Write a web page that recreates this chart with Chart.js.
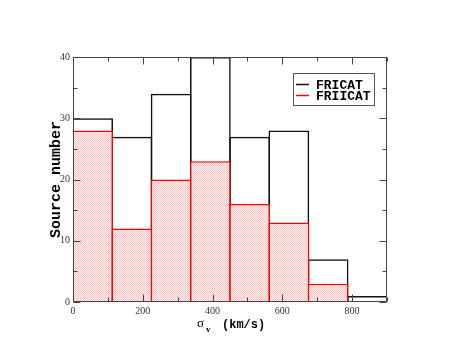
<!DOCTYPE html>
<html>
<head>
<meta charset="utf-8">
<script src="https://cdn.jsdelivr.net/npm/chart.js@4/dist/chart.umd.min.js"></script>
<style>
  html, body { margin: 0; padding: 0; background: #fff; }
  #wrap { width: 458px; height: 360px; position: relative; }
</style>
</head>
<body>
<div id="wrap"><canvas id="histChart"></canvas></div>
<script>
// ============================================
// DATA — sigma_v histogram, bin width 112.5 km/s
// ============================================
const binCenters = [56.25, 168.75, 281.25, 393.75, 506.25, 618.75, 731.25, 843.75];
const fricat     = [30, 27, 34, 40, 27, 28, 7, 1];
const friicat    = [28, 12, 20, 23, 16, 13, 3, 0];
const xTickStep  = 200;
const yTickStep  = 10;

// light red checker fill, like the xmgrace pattern
function redPattern() {
  const c = document.createElement('canvas');
  c.width = 2; c.height = 2;
  const g = c.getContext('2d');
  g.fillStyle = '#fff2f2'; g.fillRect(0, 0, 2, 2);
  g.fillStyle = '#ffc0c0'; g.fillRect(0, 0, 1, 1); g.fillRect(1, 1, 1, 1);
  return g.createPattern(c, 'repeat');
}

// ============================================
// PLUGINS — frame, inward ticks, legend box, x title
// ============================================
const frameTicks = {
  id: 'frameTicks',
  afterDraw(chart) {
    const { ctx, chartArea: a, scales: { x, y } } = chart;
    const L = Math.round(a.left) + 0.5, R = Math.round(a.right) - 0.5;
    const T = Math.round(a.top) + 0.5, B = Math.round(a.bottom) - 0.5;
    ctx.save();
    ctx.strokeStyle = '#444';
    ctx.lineWidth = 1;
    const seg = (x1, y1, x2, y2) => { ctx.beginPath(); ctx.moveTo(x1, y1); ctx.lineTo(x2, y2); ctx.stroke(); };
    for (let v = 0; v <= x.max; v += xTickStep / 2) {
      const px = Math.round(x.getPixelForValue(v)) + 0.5;
      const len = v % xTickStep === 0 ? 7 : 4;
      seg(px, B, px, B - len);
      seg(px, T, px, T + len);
    }
    for (let v = 0; v <= y.max; v += yTickStep / 2) {
      const py = Math.round(y.getPixelForValue(v)) + 0.5;
      const len = v % yTickStep === 0 ? 7 : 4;
      seg(L, py, L + len, py);
      seg(R, py, R - len, py);
    }
    ctx.strokeRect(L, T, R - L, B - T);

    // legend box
    ctx.strokeStyle = '#555';
    ctx.strokeRect(293.5, 73.5, 81, 32);
    const items = [[chart.data.datasets[0], 84.5], [chart.data.datasets[1], 95.5]];
    ctx.font = 'bold 13px "Liberation Mono", monospace';
    ctx.textBaseline = 'middle';
    ctx.fillStyle = '#000';
    for (const [ds, yy] of items) {
      ctx.strokeStyle = ds.borderColor;
      ctx.lineWidth = 1.5;
      seg(296, yy, 309, yy);
      ctx.fillText(ds.label, 316, yy + 1);
    }

    // x axis title: sigma_v (km/s)
    const cx = (a.left + a.right) / 2;
    ctx.textBaseline = 'alphabetic';
    ctx.font = '13px "Liberation Serif", serif';
    ctx.fillText('σ', cx - 33, 326.5);
    ctx.font = 'bold 9px "Liberation Serif", serif';
    ctx.fillText('v', cx - 24, 332);
    ctx.font = 'bold 12px "Liberation Mono", monospace';
    ctx.fillText('(km/s)', cx - 8, 327.5);
    ctx.restore();
  }
};

// ============================================
// CHART
// ============================================
const barW = 1.5;
new Chart(document.getElementById('histChart'), {
  type: 'bar',
  data: {
    datasets: [
      {
        label: 'FRICAT',
        data: binCenters.map((c, i) => ({ x: c, y: fricat[i] })),
        backgroundColor: 'rgba(0,0,0,0)',
        borderColor: '#111',
        borderWidth: barW,
        order: 2
      },
      {
        label: 'FRIICAT',
        data: binCenters.map((c, i) => ({ x: c, y: friicat[i] })),
        backgroundColor: redPattern(),
        borderColor: '#ff0000',
        borderWidth: barW,
        order: 1
      }
    ]
  },
  options: {
    responsive: true,
    maintainAspectRatio: false,
    animation: false,
    devicePixelRatio: 1,
    layout: { padding: { left: 47, right: 71, top: 57, bottom: 0 } },
    datasets: {
      bar: {
        grouped: false,
        categoryPercentage: 1,
        barPercentage: 1.038,
        inflateAmount: 0,
        borderSkipped: 'start'
      }
    },
    plugins: {
      legend: { display: false },
      tooltip: { enabled: false }
    },
    scales: {
      x: {
        type: 'linear',
        offset: false,
        min: 0,
        max: 900,
        grid: { display: false, drawTicks: false },
        border: { display: false },
        afterBuildTicks(s) { s.ticks = s.ticks.filter(t => t.value % xTickStep === 0); },
        ticks: {
          stepSize: xTickStep,
          autoSkip: false,
          maxRotation: 0,
          padding: 3,
          color: '#333',
          font: { family: '"Liberation Serif", serif', size: 10 }
        },
        afterFit(s) { s.height = 58; }
      },
      y: {
        min: 0,
        max: 40,
        grid: { display: false, drawTicks: false },
        border: { display: false },
        ticks: {
          stepSize: yTickStep,
          padding: 3,
          color: '#333',
          font: { family: '"Liberation Serif", serif', size: 10 }
        },
        title: {
          display: true,
          text: 'Source number',
          color: '#000',
          padding: 0,
          font: { family: '"Liberation Mono", monospace', size: 15, weight: 'bold' }
        },
        afterFit(s) { s.width = 26; }
      }
    }
  },
  plugins: [frameTicks]
});
</script>
</body>
</html>
